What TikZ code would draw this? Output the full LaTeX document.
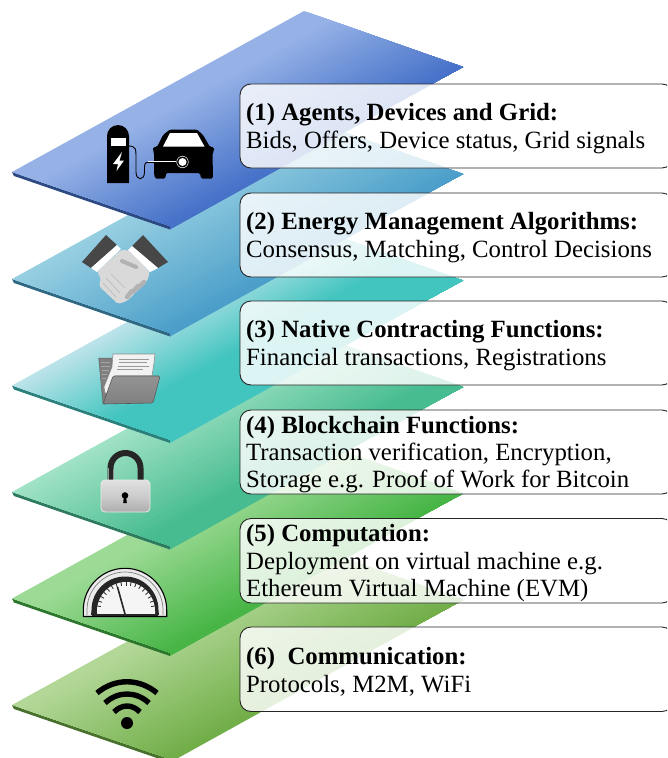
\documentclass[tikz,border=0pt]{standalone}
\usepackage{fontspec}
\setmainfont{Liberation Serif}
\definecolor{c1a}{HTML}{95B1E6}\definecolor{c1b}{HTML}{4470C8}
\definecolor{c2a}{HTML}{97CFE2}\definecolor{c2b}{HTML}{4A9EC9}
\definecolor{c3a}{HTML}{BCE3EA}\definecolor{c3b}{HTML}{42C5BF}
\definecolor{c4a}{HTML}{A0E2C5}\definecolor{c4b}{HTML}{47BC90}
\definecolor{c5a}{HTML}{9CDA95}\definecolor{c5b}{HTML}{46B545}
\definecolor{c6a}{HTML}{B2D797}\definecolor{c6b}{HTML}{70AE47}
\tikzset{
 textbox/.style={draw=black!85,line width=0.9pt,fill=white,fill opacity=0.82,draw opacity=1,rounded corners=11pt},
 boxtext/.style={anchor=west,align=left,inner sep=0pt,font=\fontsize{24.8}{27.3}\selectfont},
}
\newcommand{\plane}[5]{% dy, light, dark, start, end of the colour ramp
 \begin{scope}[shift={(0,#1)}]
  \fill[#3!65!black] (12,172) -- (170,226) -- (170,229.5) -- (14,176) -- cycle;
  \fill[#3] (170,226) -- (463,67) -- (170,229.5) -- cycle;
  \foreach \i in {0,...,45}{
   \pgfmathsetmacro\tt{\i/45}
   \pgfmathtruncatemacro\pct{min(100,max(0,100*(\tt-#4)/(#5-#4)))}
   \fill[#3!\pct!#2] ({12+158*\tt},{172+54*\tt}) -- ({304+159*\tt},{11+56*\tt}) -- (463,67) -- (170,226) -- cycle;
  }
 \end{scope}}
\newcommand{\tbox}[4]{% name, top, bottom, text
 \path[textbox] (240,#2) rectangle (673,#3);
 \node[boxtext] (#1) at (246,{(#2+#3)/2+2.5}) {#4};}
\begin{document}
\begin{tikzpicture}[x=1pt,y=-1pt]
\useasboundingbox (0,0) rectangle (667,758);
\begin{scope}
\clip (0,0) rectangle (667,758);
\plane{533}{c6a}{c6b}{0.05}{1.0}
\plane{426.5}{c5a}{c5b}{0.12}{0.98}
\plane{320}{c4a}{c4b}{0.0}{0.85}
\plane{213.5}{c3a}{c3b}{0.0}{0.62}
\plane{107}{c2a}{c2b}{0.0}{1.0}
\plane{0}{c1a}{c1b}{0.15}{1.0}
% --- charging station and car
\fill[black] (107,183) -- (107,136) arc[start angle=180,end angle=360,radius=11] -- (129,183) -- cycle;
\fill[white] (111,138) rectangle (126,146);
\fill[white] (122,152) -- (113,164) -- (118,164) -- (116.5,171) -- (124,160.5) -- (119.5,160.5) -- cycle;
\draw[black,line width=0.9pt] (129,146) .. controls (136,146) and (136,150) .. (136,156) -- (136,172) .. controls (136,181) and (144.5,181) .. (144.5,172) -- (144.5,167) .. controls (144.5,162) and (147,162) .. (150,162);
\fill[black,rounded corners=1.5pt] (153,150) -- (153,147) -- (157,147) -- (163,135) -- (170,129.5) -- (197,129.5) -- (203,135) -- (210,147) -- (214,147) -- (214,151) -- (212.5,153) -- (213,178.5) -- (201,178.5) -- (200,173) -- (166,173) -- (165.5,178.5) -- (155,178.5) -- (154,173) -- (154,153) -- cycle;
\fill[white] (163,146.5) -- (170,133) -- (197,133) -- (204.5,146.5) -- cycle;
\draw[white,line width=2.2pt] (148,162) -- (176,162);
\draw[black,line width=0.9pt] (147,162) -- (178,162);
\fill[white] (182.5,162) circle[radius=4];
\draw[white,line width=0.5pt] (182.5,162) circle[radius=5.8];
% --- handshake
\fill[black!72] (82,262) -- (106,235) -- (117,245) -- (91,268) -- cycle;
\fill[white] (91,268) -- (117,245) -- (121,249) -- (97,272) -- cycle;
\fill[black!72] (168,262) -- (143,235) -- (132,246) -- (158,268) -- cycle;
\fill[white] (158,268) -- (132,246) -- (128,250) -- (150,272) -- cycle;
\fill[black!15,rounded corners=2pt] (97,272) -- (121,250) -- (128,250) -- (150,272) -- (147,281) -- (127,301) -- (118,304) -- (99,286) -- (101,278) -- cycle;
\draw[black!30,line width=4pt,line cap=round] (122,261) -- (136,267);
\draw[black!30,line width=4.5pt,line cap=round] (144,282) -- (139,287) (138,286) -- (133,292) (132,291) -- (127,297);
\draw[black!28,line width=0.6pt] (106,278) -- (120,293) (111,274) -- (125,288) (103,283) -- (116,297);
% --- folder
\fill[black!50,draw=black!60,line width=0.5pt] (98.7,358) -- (112,358) -- (112,370) -- (110,393) -- (113,403) -- (103,404) -- cycle;
\draw[black!35,line width=0.5pt] (101,362) -- (110,362) (101,366) -- (110,366) (102,370) -- (109,370) (102,374) -- (107,374) (102,378) -- (106,378);
\fill[black!5,draw=black!45,line width=0.6pt] (113,354) -- (155,354) -- (154,363) -- (152,376) -- (115,376) -- (110,393) -- (105,393) -- (104,387) -- (112,367) -- cycle;
\draw[black!40,line width=0.7pt] (119,359) -- (149,359) (119,362.5) -- (147,362.5) (118,366) -- (149,366) (117,369.5) -- (143,369.5);
\shade[top color=black!42,bottom color=black!50,draw=black!65,line width=0.6pt,rounded corners=1.5pt] (113,376) -- (160,376) -- (153,403) -- (103,404) -- cycle;
% --- lock
\draw[black!85,line width=6pt] (110.5,482) -- (110.5,468) arc[start angle=180,end angle=360,radius=15] -- (140.5,482);
\draw[black!40,line width=0.8pt] (108,480) -- (108,468);
\draw[black!40,line width=0.8pt] (113,480) -- (113,469);
\shade[top color=black!12,bottom color=black!32,middle color=black!20,draw=black!8,line width=0.8pt,rounded corners=4pt] (101,480) rectangle (150,512);
\fill[black] (125,495.5) circle[radius=3.3];
\fill[black] (123.8,497) -- (126.2,497) -- (126.8,503) -- (123.2,503) -- cycle;
% --- gauge
\fill[black!8,draw=black,line width=1.1pt] (83.3,616.5) -- (83.3,610) arc[start angle=180,end angle=360,radius=41.7] -- (166.7,616.5) -- cycle;
\draw[black!50,line width=0.7pt] (87,615) -- (87,610) arc[start angle=180,end angle=360,radius=38] -- (163,615);
\fill[black!85] (91,615) -- (91.5,610) arc[start angle=180,end angle=360,radius=33.5] -- (159,615) -- cycle;
\fill[white!96!black] (97,615) -- (97,611) arc[start angle=180,end angle=360,radius=29] -- (155,615) -- cycle;
\foreach \a in {190,200,...,350}{
 \draw[black!85,line width=0.8pt] ({126+29*cos(\a)},{611+29*sin(\a)}) -- ({126+25.5*cos(\a)},{611+25.5*sin(\a)});
}
\draw[black!85,line width=1.6pt] (92,615) -- (158,615);
\draw[black!85,line width=1.6pt] (117.5,587) -- (125,614);
% --- wifi
\fill[black] (127,723) circle[radius=6];
\draw[black,line width=5.4pt] (97,693) .. controls (115,678) and (139,678) .. (157,693);
\draw[black,line width=5.4pt] (105,703) .. controls (118,691) and (136,691) .. (149,703);
\draw[black,line width=5.4pt] (114,712) .. controls (122,704) and (132,704) .. (140,712);
% --- text boxes
\tbox{t1}{84}{168}{\textbf{(1) Agents, Devices and Grid:}\\Bids, Offers, Device status, Grid signals}
\tbox{t2}{193}{277}{\textbf{(2) Energy Management Algorithms:}\\Consensus, Matching, Control Decisions}
\tbox{t3}{301}{385}{\textbf{(3) Native Contracting Functions:}\\Financial transactions, Registrations}
\tbox{t4}{410}{494}{\textbf{(4) Blockchain Functions:}\\Transaction verification, Encryption,\\Storage e.g. Proof of Work for Bitcoin}
\tbox{t5}{518.5}{603}{\textbf{(5) Computation:}\\Deployment on virtual machine e.g.\\Ethereum Virtual Machine (EVM)}
\tbox{t6}{627}{711.5}{\textbf{(6)\ \ Communication:}\\Protocols, M2M, WiFi}
\end{scope}
\end{tikzpicture}
\end{document}
